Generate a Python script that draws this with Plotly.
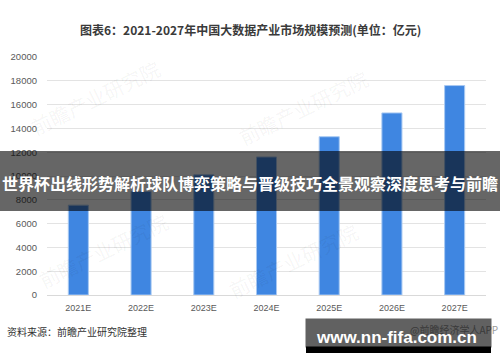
import plotly.graph_objects as go

categories = ["2021E", "2022E", "2023E", "2024E", "2025E", "2026E", "2027E"]
values = [7550, 8700, 10100, 11600, 13300, 15300, 17600]
y_ticks = [0, 2000, 4000, 6000, 8000, 10000, 12000, 14000, 16000, 18000, 20000]

title_text = "图表6：2021-2027年中国大数据产业市场规模预测(单位：亿元)"
banner_text = "世界杯出线形势解析球队博弈策略与晋级技巧全景观察深度思考与前瞻"
source_text = "资料来源：前瞻产业研究院整理"
app_text = "@前瞻经济学人APP"
site_text = "www.nn-fifa.com.cn"
watermark_text = "前瞻产业研究院"

W, H = 500, 362
ML, MR, MT, MB = 47, 14, 57, 67
PW, PH = W - ML - MR, H - MT - MB


def px(x):
    return (x - ML) / PW


def py(y):
    return (H - MB - y) / PH


CJK = "Noto Sans CJK SC, Noto Sans, sans-serif"

fig = go.Figure()
fig.add_trace(go.Bar(
    x=categories, y=values,
    marker=dict(color="#3f86e1", line=dict(color="#a8c9f2", width=1)),
    hoverinfo="skip",
))

annotations = []
# faint watermarks
for (wx, wy) in [(95, 97), (303, 107), (103, 250), (293, 260)]:
    annotations.append(dict(
        x=px(wx), y=py(wy), xref="paper", yref="paper", text=watermark_text,
        showarrow=False, textangle=-26, font=dict(family=CJK, size=20, color="rgba(0,0,0,0.05)"),
        xanchor="center", yanchor="middle"))

annotations += [
    dict(x=px(250), y=py(30), xref="paper", yref="paper", text="<b>" + title_text + "</b>",
         showarrow=False, font=dict(family=CJK, size=12, color="#3a3a3a"),
         xanchor="center", yanchor="middle"),
    dict(x=px(250), y=py(183), xref="paper", yref="paper", text="<b>" + banner_text + "</b>",
         showarrow=False, font=dict(family=CJK, size=16, color="#ffffff"),
         xanchor="center", yanchor="middle"),
    dict(x=px(5), y=py(331), xref="paper", yref="paper", text=source_text,
         showarrow=False, font=dict(family=CJK, size=10, color="#333333"),
         xanchor="left", yanchor="middle"),
    dict(x=px(500), y=py(329), xref="paper", yref="paper", text=app_text,
         showarrow=False, font=dict(family=CJK, size=10, color="#9a9a9a"),
         xanchor="right", yanchor="middle"),
    dict(x=px(398.5), y=py(333), xref="paper", yref="paper", text=" ",
         showarrow=False, width=183, height=26, borderpad=1,
         bgcolor="rgba(0,0,0,0.62)", font=dict(size=10),
         xanchor="center", yanchor="middle"),
    dict(x=px(396.5), y=py(337), xref="paper", yref="paper", text="<b>" + site_text + "</b>",
         showarrow=False, font=dict(family="Liberation Sans, Arial, sans-serif", size=17, color="#ffffff"),
         xanchor="center", yanchor="middle"),
]

shapes = [
    dict(type="rect", xref="paper", yref="paper", x0=px(-2), x1=px(502), y0=py(211), y1=py(151),
         fillcolor="rgba(0,0,0,0.6)", line=dict(width=0), layer="above"),
    dict(type="rect", xref="paper", yref="paper", x0=px(306), x1=px(491), y0=py(353), y1=py(346.5),
         fillcolor="#000000", line=dict(width=0), layer="above"),
]

fig.update_layout(
    width=W, height=H,
    margin=dict(l=ML, r=MR, t=MT, b=MB),
    paper_bgcolor="white", plot_bgcolor="white",
    bargap=0.68,
    showlegend=False,
    annotations=annotations,
    shapes=shapes,
    xaxis=dict(
        type="category", showgrid=False, showline=True, linecolor="#d9d9d9", linewidth=1,
        tickfont=dict(family="Liberation Sans, Arial, sans-serif", size=9, color="#595959"),
        ticks="", ticklabelstandoff=4, fixedrange=True,
    ),
    yaxis=dict(
        range=[0, 20000], tickvals=y_ticks, ticktext=[str(v) for v in y_ticks],
        showgrid=True, gridcolor="#e3e3e3", gridwidth=1, zeroline=False, showline=False,
        tickfont=dict(family="Liberation Sans, Arial, sans-serif", size=9.5, color="#595959"),
        ticks="", ticklabelstandoff=9, fixedrange=True,
    ),
)

fig.write_html("out.html")
